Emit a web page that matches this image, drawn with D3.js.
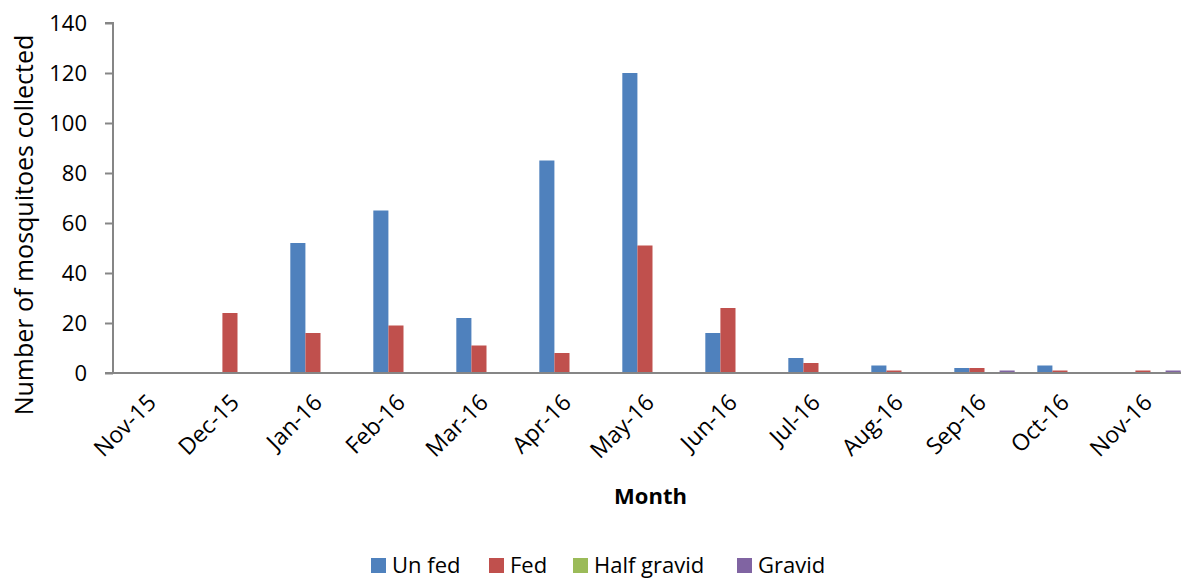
<!DOCTYPE html>
<html>
<head>
<meta charset="utf-8">
<script src="https://cdn.jsdelivr.net/npm/d3@7"></script>
<style>
  body { margin: 0; background: #fff; }
  svg { display: block; font-family: "Open Sans", sans-serif; }
</style>
</head>
<body>
<div id="chart"></div>
<script>
  /* ----------------------- Data ----------------------- */
  const months = ["Nov-15", "Dec-15", "Jan-16", "Feb-16", "Mar-16", "Apr-16", "May-16",
    "Jun-16", "Jul-16", "Aug-16", "Sep-16", "Oct-16", "Nov-16"];
  const seriesNames = ["Un fed", "Fed", "Half gravid", "Gravid"];
  const unFed = [0, 0, 52, 65, 22, 85, 120, 16, 6, 3, 2, 3, 0];
  const fed = [0, 24, 16, 19, 11, 8, 51, 26, 4, 1, 2, 1, 1];
  const halfGravid = [0, 0, 0, 0, 0, 0, 0, 0, 0, 0, 0, 0, 0];
  const gravid = [0, 0, 0, 0, 0, 0, 0, 0, 0, 0, 1, 0, 1];
  const yTicks = [0, 20, 40, 60, 80, 100, 120, 140];

  const seriesValues = [unFed, fed, halfGravid, gravid];
  const colors = ["#4F81BD", "#C0504D", "#9BBB59", "#8064A2"];

  /* ----------------------- Dimensions ----------------------- */
  const W = 1181, H = 579;
  // the plot area runs a little past the right edge of the picture
  const plot = { left: 113, right: 1192, top: 23, bottom: 373 };

  const svg = d3.select("#chart").append("svg")
    .attr("width", W).attr("height", H);

  /* ----------------------- Scales ----------------------- */
  const x = d3.scaleBand().domain(months).range([plot.left, plot.right]).padding(0);
  const xInner = d3.scaleBand().domain(seriesNames).range([0, x.bandwidth()])
    .paddingInner(0).paddingOuter(0.75);
  const y = d3.scaleLinear().domain([0, 140]).range([plot.bottom, plot.top]);
  const color = d3.scaleOrdinal().domain(seriesNames).range(colors);

  /* ----------------------- Bars ----------------------- */
  const rows = months.map((m, i) => ({
    month: m,
    values: seriesNames.map((s, k) => ({ key: s, value: seriesValues[k][i] }))
  }));

  const groups = svg.selectAll(".group").data(rows).enter().append("g")
    .attr("class", "group")
    .attr("transform", d => `translate(${x(d.month)},0)`);

  groups.selectAll("rect").data(d => d.values.filter(v => v.value > 0)).enter()
    .append("rect")
    .attr("x", d => xInner(d.key))
    .attr("y", d => y(d.value))
    .attr("width", xInner.bandwidth())
    .attr("height", d => y(0) - y(d.value))
    .attr("fill", d => color(d.key));

  /* ----------------------- Axes ----------------------- */
  const yAxis = d3.axisLeft(y).tickValues(yTicks).tickSize(8).tickPadding(18);
  const yAxisGroup = svg.append("g")
    .attr("transform", `translate(${plot.left},0)`)
    .call(yAxis);
  yAxisGroup.select(".domain").attr("stroke", "#868686").attr("stroke-width", 2)
    .attr("d", `M-8,${plot.top}H0V${plot.bottom}`);
  yAxisGroup.selectAll(".tick line").attr("stroke", "#868686").attr("stroke-width", 2);
  yAxisGroup.selectAll(".tick text")
    .style("font-size", "22px").style("font-family", "'Open Sans', sans-serif")
    .attr("fill", "#000");

  const xAxis = d3.axisBottom(x).tickSize(0).tickPadding(0);
  const xAxisGroup = svg.append("g")
    .attr("transform", `translate(0,${plot.bottom})`)
    .call(xAxis);
  xAxisGroup.select(".domain").attr("stroke", "#868686").attr("stroke-width", 2)
    .attr("d", `M${plot.left - 8},0H${plot.right}`);
  xAxisGroup.selectAll(".tick text")
    .style("font-size", "23px").style("font-family", "'Open Sans', sans-serif")
    .attr("fill", "#000")
    .attr("text-anchor", "end")
    .attr("dy", "0")
    .attr("y", 0)
    .attr("transform", "translate(3,31) rotate(-45)");

  /* ----------------------- Titles ----------------------- */
  svg.append("text")
    .attr("x", (plot.left + plot.right) / 2 - 2)
    .attr("y", 504)
    .attr("text-anchor", "middle")
    .style("font-size", "22px").style("font-weight", "bold")
    .text("Month");

  svg.append("text")
    .attr("transform", "translate(33,225) rotate(-90)")
    .attr("text-anchor", "middle")
    .style("font-size", "25px")
    .text("Number of mosquitoes collected");

  /* ----------------------- Legend ----------------------- */
  const legendX = [371, 489, 573, 737];
  const legend = svg.selectAll(".legend").data(seriesNames).enter().append("g")
    .attr("class", "legend")
    .attr("transform", (d, i) => `translate(${legendX[i]},558)`);
  legend.append("rect")
    .attr("width", 15).attr("height", 15)
    .attr("fill", d => color(d));
  legend.append("text")
    .attr("x", 21).attr("y", 15)
    .style("font-size", "22px")
    .text(d => d);
</script>
</body>
</html>
